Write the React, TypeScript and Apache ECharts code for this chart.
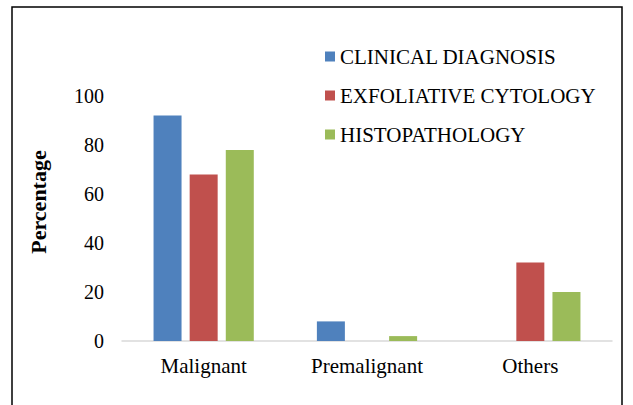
import React, { useEffect, useRef } from "react";
import * as echarts from "echarts";

const categories = ["Malignant", "Premalignant", "Others"];
const seriesNames = ["CLINICAL DIAGNOSIS", "EXFOLIATIVE CYTOLOGY", "HISTOPATHOLOGY"];
const clinical = [92, 8, 0];
const exfoliative = [68, 0, 32];
const histo = [78, 2, 20];
const colors = ["#4F81BD", "#C0504D", "#9BBB59"];
const yAxisTitle = "Percentage";

const FONT = "Liberation Serif";

export default function App() {
  const ref = useRef<HTMLDivElement>(null);
  useEffect(() => {
    document.body.style.margin = "0";
    const chart = echarts.init(ref.current!, null, { renderer: "svg" });
    const data = [clinical, exfoliative, histo];
    chart.setOption({
      animation: false,
      backgroundColor: "#fff",
      textStyle: { fontFamily: FONT },
      graphic: [
        {
          type: "rect",
          shape: { x: 12, y: 7, width: 610, height: 410 },
          style: { fill: "none", stroke: "#000", lineWidth: 1.5 },
          silent: true,
        },
        {
          type: "text",
          x: 38,
          y: 202,
          rotation: Math.PI / 2,
          style: {
            text: yAxisTitle,
            fontFamily: FONT,
            fontSize: 22,
            fontWeight: "bold",
            fill: "#000",
            align: "center",
            verticalAlign: "middle",
          },
          silent: true,
        },
      ],
      legend: {
        orient: "vertical",
        left: 320,
        top: 41,
        padding: 5,
        itemWidth: 10,
        itemHeight: 10,
        itemGap: 18,
        icon: "rect",
        textStyle: { fontFamily: FONT, fontSize: 21, color: "#000" },
        data: seriesNames,
      },
      grid: { left: 122, right: 21, top: 96, bottom: 64 },
      xAxis: {
        type: "category",
        data: categories,
        axisLine: { show: true, lineStyle: { color: "#D9D9D9", width: 1.5 } },
        axisTick: { show: false },
        axisLabel: { fontFamily: FONT, fontSize: 21, color: "#000", margin: 14 },
      },
      yAxis: {
        type: "value",
        min: 0,
        max: 100,
        interval: 20,
        splitLine: { show: false },
        axisLine: { show: false },
        axisTick: { show: false },
        axisLabel: { fontFamily: FONT, fontSize: 20, color: "#000", margin: 18 },
      },
      series: seriesNames.map((n, i) => ({
        name: n,
        type: "bar",
        data: data[i],
        barWidth: 28,
        barGap: "29%",
        itemStyle: { color: colors[i] },
      })),
    });
    return () => chart.dispose();
  }, []);
  return <div ref={ref} style={{ width: 633, height: 405 }} />;
}
